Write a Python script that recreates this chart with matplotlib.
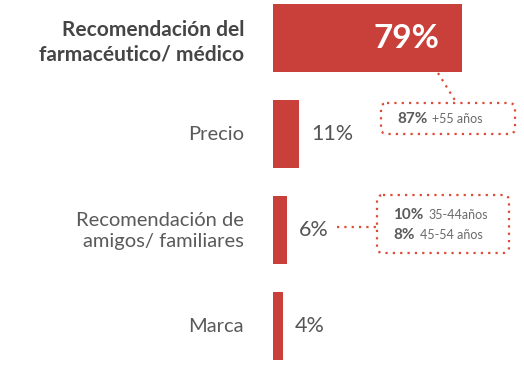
import matplotlib
matplotlib.use("Agg")
import matplotlib.pyplot as plt
from matplotlib.patches import FancyBboxPatch

categories = ["Recomendación del\nfarmacéutico/ médico", "Precio",
              "Recomendación de\namigos/ familiares", "Marca"]
values = [79, 11, 6, 4]
callout_top = [("87%", "+55 años")]
callout_mid = [("10%", "35-44años"), ("8%", "45-54 años")]

RED = "#c9403a"
DOT = "#dd4a35"
FONT = "Lato"

W, H = 524, 370
fig = plt.figure(figsize=(W / 100, H / 100), dpi=100)

# main bar axes: x=0 at px 273, 2.39 px per %
x0, ppu = 273, 2.39
ax = fig.add_axes([x0 / W, 0, 100 * ppu / W, 1])
ax.set_xlim(0, 100)
ax.set_ylim(3 + 44 / 96, -38 / 96)
ax.axis("off")

ypos = list(range(len(values)))
ax.barh(ypos, values, height=0.71, color=RED, left=0)

for i, (cat, v) in enumerate(zip(categories, values)):
    bold = i == 0
    ax.annotate(cat, (0, i), xytext=(-29, -4 if bold else -1),
                textcoords="offset pixels",
                ha="right", va="center", fontsize=15 if bold else 14.5,
                family=FONT, fontweight="bold" if bold else "normal",
                color="#454545" if bold else "#5a5a5a", linespacing=1.3)
    if i == 0:
        ax.text(v / 2 + 16.5, i, f"{v}%", ha="center", va="center",
                fontsize=24, family=FONT, fontweight="bold", color="white")
    else:
        ax.annotate(f"{v}%", (v, i), xytext=(12, 0), textcoords="offset pixels",
                    ha="left", va="center", fontsize=15.5, family=FONT,
                    fontweight="normal", color="#555555")

# overlay in pixel coordinates for the callouts
ov = fig.add_axes([0, 0, 1, 1])
ov.set_xlim(0, W)
ov.set_ylim(H, 0)
ov.axis("off")
ov.patch.set_alpha(0)

dot_kw = dict(color=DOT, linestyle=(0, (1, 2.3)), linewidth=1.6)


def callout_box(x, y, w, h):
    box = FancyBboxPatch((x, y), w, h, boxstyle="round,pad=0,rounding_size=6",
                         fill=False, edgecolor=DOT, linewidth=1.6,
                         linestyle=(0, (1, 2.3)))
    ov.add_patch(box)


callout_box(381, 103, 134, 31)
ov.plot([438, 456], [73, 102], **dot_kw)
callout_box(377, 195, 132, 58)
ov.plot([337, 376], [227, 227], **dot_kw)

fig.canvas.draw()
renderer = fig.canvas.get_renderer()


def pair(x, y, big, small):
    t = ov.text(x, y, big, ha="left", va="center", fontsize=11, family=FONT,
                fontweight="bold", color="#5a5a5a")
    bb = t.get_window_extent(renderer)
    ov.annotate(small, (x, y), xytext=(bb.width + 5, 0), textcoords="offset pixels",
                ha="left", va="center", fontsize=9, family=FONT,
                fontweight="normal", color="#6a6a6a")


for big, small in callout_top:
    pair(397, 119, big, small)
for k, (big, small) in enumerate(callout_mid):
    pair(393, 215 + 20 * k, big, small)

fig.savefig("out.png", dpi=100, facecolor="white")
